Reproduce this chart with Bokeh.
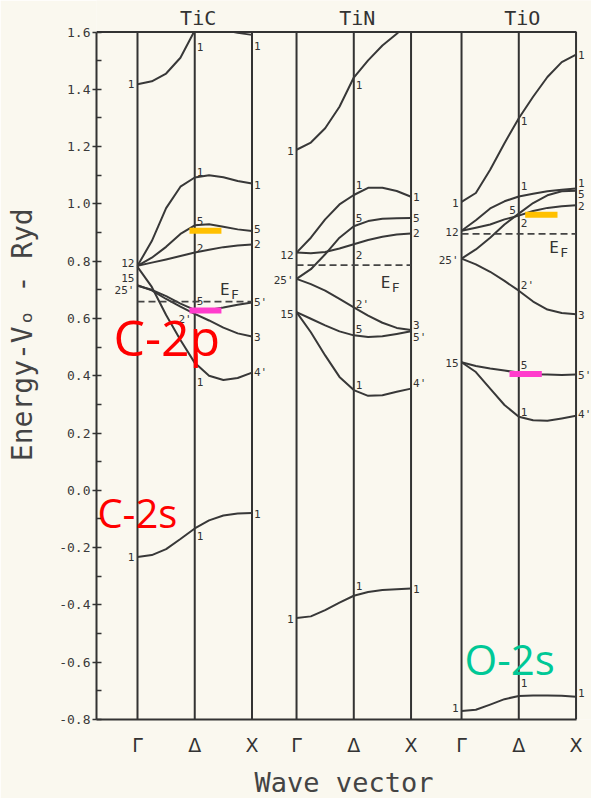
import math
from bokeh.plotting import figure
from bokeh.models import (ColumnDataSource, LabelSet, Label, FixedTicker,
                          SingleIntervalTicker, NumeralTickFormatter, Range1d,
                          CustomJSTickFormatter)
from bokeh.core.properties import value
from bokeh.embed import file_html
from bokeh.resources import INLINE

nan = float("nan")

# ---------------- data ----------------
materials = ["TiC", "TiN", "TiO"]
k_points = [0.0, 0.125, 0.25, 0.375, 0.5, 0.625, 0.75, 0.875, 1.0]   # Γ ... Δ ... X
sym_points = [0.0, 0.5, 1.0]
sym_labels = ["Γ", "Δ", "X"]
e_min, e_max = -0.8, 1.6

# energies (Ryd) of each band at k_points
tic_bands = [
    [-0.233, -0.226, -0.205, -0.170, -0.133, -0.105, -0.088, -0.081, -0.079],
    [0.780, 0.710, 0.612, 0.525, 0.445, 0.400, 0.385, 0.392, 0.411],
    [0.716, 0.698, 0.668, 0.641, 0.616, 0.593, 0.568, 0.548, 0.537],
    [0.714, 0.700, 0.678, 0.652, 0.630, 0.630, 0.638, 0.648, 0.656],
    [0.784, 0.795, 0.806, 0.818, 0.830, 0.840, 0.849, 0.855, 0.858],
    [0.784, 0.812, 0.850, 0.895, 0.925, 0.929, 0.920, 0.911, 0.905],
    [0.784, 0.870, 0.985, 1.060, 1.092, 1.100, 1.093, 1.080, 1.071],
    [1.418, 1.428, 1.455, 1.510, 1.605, 1.700, nan, nan, nan],
    [nan, nan, nan, nan, nan, nan, 1.607, 1.597, 1.590],
]
tin_bands = [
    [-0.446, -0.440, -0.418, -0.392, -0.368, -0.355, -0.348, -0.345, -0.343],
    [0.622, 0.552, 0.471, 0.396, 0.350, 0.330, 0.332, 0.344, 0.355],
    [0.622, 0.599, 0.576, 0.555, 0.541, 0.535, 0.538, 0.546, 0.555],
    [0.738, 0.720, 0.697, 0.668, 0.639, 0.610, 0.585, 0.567, 0.560],
    [0.830, 0.828, 0.832, 0.844, 0.859, 0.874, 0.885, 0.893, 0.897],
    [0.738, 0.772, 0.824, 0.882, 0.922, 0.940, 0.948, 0.950, 0.951],
    [0.830, 0.882, 0.946, 0.998, 1.031, 1.056, 1.056, 1.045, 1.025],
    [1.189, 1.214, 1.264, 1.339, 1.441, 1.501, 1.553, 1.594, 1.640],
]
tio_bands = [
    [-0.770, -0.766, -0.748, -0.729, -0.718, -0.716, -0.716, -0.717, -0.721],
    [0.447, 0.413, 0.355, 0.298, 0.257, 0.245, 0.243, 0.251, 0.260],
    [0.447, 0.434, 0.425, 0.418, 0.411, 0.405, 0.404, 0.403, 0.404],
    [0.809, 0.789, 0.763, 0.731, 0.697, 0.659, 0.631, 0.619, 0.615],
    [0.809, 0.841, 0.882, 0.928, 0.966, 1.003, 1.030, 1.044, 1.046],
    [0.906, 0.917, 0.928, 0.946, 0.959, 0.975, 0.986, 0.992, 0.995],
    [0.906, 0.943, 0.984, 1.009, 1.026, 1.035, 1.044, 1.049, 1.054],
    [1.007, 1.038, 1.119, 1.212, 1.299, 1.374, 1.443, 1.495, 1.521],
]
fermi_levels = [0.659, 0.786, 0.895]

# band symmetry labels: (k, energy, text) ; "L" = left of line, "R" = right of line
tic_labels_L = [(0, 1.418, "1"), (0, 0.795, "12"), (0, 0.743, "15"), (0, 0.697, "25'"),
                (0.5, 0.595, "2'"), (0, -0.233, "1")]
tic_labels_R = [(0.5, 1.547, "1"), (1, 1.550, "1"), (0.5, 1.113, "1"), (1, 1.067, "1"),
                (0.5, 0.940, "5"), (1, 0.911, "5"), (0.5, 0.847, "2"), (1, 0.859, "2"),
                (0.5, 0.662, "5"), (1, 0.656, "5'"), (1, 0.535, "3"), (1, 0.413, "4'"),
                (0.5, 0.378, "1"), (0.5, -0.160, "1"), (1, -0.083, "1")]
tin_labels_L = [(0, 1.183, "1"), (0, 0.822, "12"), (0, 0.731, "25'"), (0, 0.616, "15"),
                (0, -0.448, "1")]
tin_labels_R = [(0.5, 1.414, "1"), (0.5, 1.067, "1"), (1, 1.025, "1"), (0.5, 0.951, "5"),
                (1, 0.951, "5"), (1, 0.899, "2"), (0.5, 0.822, "2"), (0.5, 0.650, "2'"),
                (0.5, 0.564, "5"), (1, 0.576, "3"), (1, 0.535, "5'"), (0.5, 0.367, "1"),
                (1, 0.373, "4'"), (0.5, -0.333, "1"), (1, -0.344, "1")]
tio_labels_L = [(0, 1.003, "1"), (0.5, 0.980, "5"), (0, 0.903, "12"), (0, 0.801, "25'"),
                (0, 0.446, "15"), (0, -0.760, "1")]
tio_labels_R = [(1, 1.519, "1"), (0.5, 1.288, "1"), (0.5, 1.061, "1"), (1, 1.073, "1"),
                (1, 1.036, "5"), (1, 0.992, "2"), (0.5, 0.932, "2"), (0.5, 0.714, "2'"),
                (1, 0.612, "3"), (0.5, 0.436, "5"), (1, 0.402, "5'"), (0.5, 0.274, "1"),
                (1, 0.263, "4'"), (0.5, -0.674, "1"), (1, -0.708, "1")]

# E_F label anchor (k, energy)
ef_label_k = [0.72, 0.735, 0.765]
ef_label_E = [0.700, 0.725, 0.847]

# coloured highlight bars: panel, k start, k end, energy, colour
bar_panel = [0, 0, 2, 2]
bar_k0 = [0.454, 0.454, 0.556, 0.419]
bar_k1 = [0.733, 0.733, 0.838, 0.701]
bar_E = [0.906, 0.628, 0.962, 0.406]
bar_color = ["#ffc000", "#ff3ccc", "#ffc000", "#ff3ccc"]

# coloured annotations
ann_text = ["C-2p", "C-2s", "O-2s"]
ann_panel = [0, 0, 2]
ann_k = [-0.21, -0.35, 0.026]
ann_E = [0.535, -0.077, -0.587]
ann_color = ["#ff0000", "#ff0000", "#00c896"]
ann_size = ["50px", "40px", "42px"]

# ---------------- layout ----------------
panel_offset = [0.0, 1.389, 2.830]
x_left, x_frame_right, x_canvas_right = -0.358, 3.834, 3.965
e_top_margin = 1.71
INK = "#333333"
PAPER = "#faf8ef"
MONO = "DejaVu Sans Mono"

p = figure(frame_width=495, frame_height=719,
           x_range=Range1d(x_left, x_canvas_right), y_range=Range1d(e_min, e_top_margin),
           output_backend="svg", toolbar_location=None,
           min_border_left=96, min_border_right=0, min_border_top=0,
           min_border_bottom=76)
p.background_fill_color = PAPER
p.border_fill_color = PAPER
p.xgrid.grid_line_color = None
p.ygrid.grid_line_color = None
p.outline_line_color = None

# x axis: Γ Δ X labels
ticks = [off + s for off in panel_offset for s in sym_points]
p.xaxis.ticker = FixedTicker(ticks=ticks)
p.xaxis.bounds = (x_left, x_frame_right)
p.xaxis.formatter = CustomJSTickFormatter(args=dict(labels=sym_labels),
                                          code="return labels[index % 3];")
p.xaxis.major_tick_line_color = None
p.xaxis.minor_tick_line_color = None
p.xaxis.axis_line_color = INK
p.xaxis.axis_line_width = 2
p.xaxis.major_label_text_font = "DejaVu Sans"
p.xaxis.major_label_text_font_size = "19px"
p.xaxis.major_label_text_color = INK
p.xaxis.major_label_standoff = 8
p.xaxis.axis_label = "Wave vector"
p.xaxis.axis_label_text_font = MONO
p.xaxis.axis_label_text_font_size = "27px"
p.xaxis.axis_label_text_font_style = "normal"
p.xaxis.axis_label_text_color = "#444444"
p.xaxis.axis_label_standoff = 8

# y axis
p.yaxis.ticker = SingleIntervalTicker(interval=0.2, num_minor_ticks=2)
p.yaxis.bounds = (e_min, e_max)
p.yaxis.formatter = NumeralTickFormatter(format="0.0")
p.yaxis.axis_line_color = INK
p.yaxis.axis_line_width = 2
p.yaxis.major_tick_line_color = INK
p.yaxis.major_tick_line_width = 1.5
p.yaxis.major_tick_out = 4
p.yaxis.major_tick_in = 0
p.yaxis.minor_tick_line_color = INK
p.yaxis.minor_tick_line_width = 1.5
p.yaxis.minor_tick_in = 5
p.yaxis.minor_tick_out = 0
p.yaxis.major_label_text_font = MONO
p.yaxis.major_label_text_font_size = "13px"
p.yaxis.major_label_text_color = "#3a3a3a"
p.yaxis.major_label_standoff = 2
p.yaxis.axis_label = "\u00a0\u00a0\u00a0Energy-Vₒ - Ryd"
p.yaxis.axis_label_text_font = MONO
p.yaxis.axis_label_text_font_size = "28px"
p.yaxis.axis_label_text_font_style = "normal"
p.yaxis.axis_label_text_color = "#444444"
p.yaxis.axis_label_standoff = 17

# vertical symmetry lines
p.segment(x0=ticks, y0=[e_min] * len(ticks), x1=ticks, y1=[e_max] * len(ticks),
          line_color=INK, line_width=2)

# bands
all_bands = [tic_bands, tin_bands, tio_bands]
for off, bands in zip(panel_offset, all_bands):
    xs = [off + k for k in k_points]
    for band in bands:
        p.line(xs, band, line_color="#383838", line_width=2, line_join="round")

# Fermi levels
for off, ef in zip(panel_offset, fermi_levels):
    p.line([off, off + 1.0], [ef, ef], line_color="#444444", line_width=1.8,
           line_dash="7 4")

# coloured highlight bars
p.segment(x0=[panel_offset[i] + k for i, k in zip(bar_panel, bar_k0)], y0=bar_E,
          x1=[panel_offset[i] + k for i, k in zip(bar_panel, bar_k1)], y1=bar_E,
          line_color=bar_color, line_width=6, line_cap="butt")

# mask above the top of the frame (curves leaving the plotted window)
p.quad(left=[x_left], right=[x_canvas_right], bottom=[e_max], top=[e_top_margin],
       fill_color=PAPER, line_color=None)
# top frame line
p.segment(x0=[x_left], y0=[e_max], x1=[x_frame_right], y1=[e_max],
          line_color=INK, line_width=2)

# band symmetry labels
left_sets = [tic_labels_L, tin_labels_L, tio_labels_L]
right_sets = [tic_labels_R, tin_labels_R, tio_labels_R]
for side, sets in (("L", left_sets), ("R", right_sets)):
    xs, ys, ts = [], [], []
    for off, labs in zip(panel_offset, sets):
        for k, e, t in labs:
            xs.append(off + k)
            ys.append(e)
            ts.append(t)
    src = ColumnDataSource(dict(x=xs, y=ys, text=ts))
    ls = LabelSet(x="x", y="y", text="text", source=src,
                  x_offset=(-3 if side == "L" else 2),
                  text_align=("right" if side == "L" else "left"),
                  text_baseline="middle", text_font=value(MONO),
                  text_font_size="11px", text_color=INK)
    p.add_layout(ls)

# panel titles
for off, name in zip(panel_offset, materials):
    p.add_layout(Label(x=off + 0.53, y=e_max, text=name, y_offset=14,
                       text_align="center", text_baseline="middle",
                       text_font=MONO, text_font_size="20px", text_color=INK))

# E_F labels
for off, kk, ee in zip(panel_offset, ef_label_k, ef_label_E):
    p.add_layout(Label(x=off + kk, y=ee, text="E", text_align="left",
                       text_baseline="middle", text_font=MONO,
                       text_font_size="16px", text_color=INK))
    p.add_layout(Label(x=off + kk, y=ee, text="F", x_offset=11, y_offset=-5,
                       text_align="left", text_baseline="middle", text_font=MONO,
                       text_font_size="13px", text_color=INK))

# coloured annotations
for t, pi, k, e, c, s in zip(ann_text, ann_panel, ann_k, ann_E, ann_color, ann_size):
    p.add_layout(Label(x=panel_offset[pi] + k, y=e, text=t, text_align="left",
                       text_baseline="alphabetic", text_font="Open Sans",
                       text_font_size=s, text_color=c))

open("out.html", "w").write(file_html(p, INLINE))
